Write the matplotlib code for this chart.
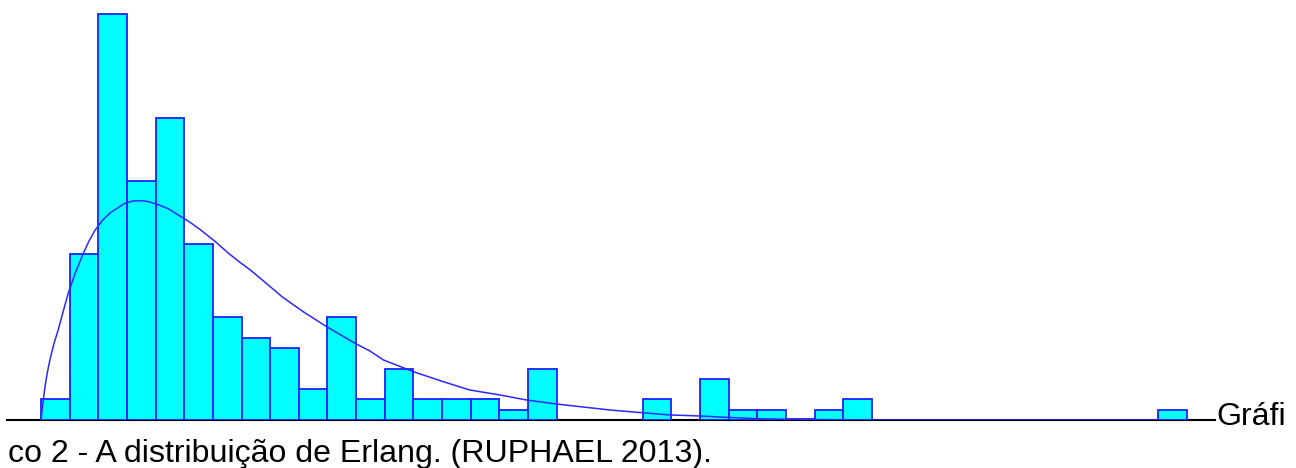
import matplotlib
matplotlib.use("Agg")
import matplotlib.pyplot as plt

# histogram: bin index -> height (counts)
bin_left = list(range(41))
heights = [
    2, 16.1, 39.4, 23.2, 29.3, 17.1, 10.0, 8.0, 7.0, 3.0,
    10.0, 2, 5, 2, 2, 2, 1, 5, 0, 0,
    0, 2, 0, 4, 1, 1, 0.1, 1, 2, 0,
    0, 0, 0, 0, 0, 0, 0, 0, 0, 1,
]

# fitted Erlang curve
curve_x = [0, 0.05, 0.14, 0.22, 0.31, 0.45, 0.60, 0.78, 0.95, 1.2, 1.48,
           1.68, 1.88, 2.15, 2.41, 2.9, 3.18, 3.46, 3.75, 4.1, 4.45, 4.85,
           5.2, 5.55, 6.05, 6.54, 6.9, 7.29, 7.85, 8.40, 8.8, 9.16, 9.97,
           10.96, 11.48, 11.95, 13.0, 14.04, 14.97, 16.02, 16.95, 18.0,
           19.86, 20.97, 21.95, 23.0, 23.93, 24.98, 26.03, 28.9, 40.0]
curve_y = [0, 1.3, 3.23, 4.6, 5.83, 7.4, 8.74, 10.6, 12.3, 14.3, 16.2,
           17.4, 18.4, 19.4, 20.1, 21.0, 21.25, 21.3, 21.2, 20.9, 20.5, 19.8,
           19.2, 18.5, 17.4, 16.2, 15.4, 14.6, 13.3, 12.0, 11.2, 10.5, 9.06,
           7.45, 6.70, 5.83, 4.69, 3.72, 2.91, 2.43, 1.94, 1.55,
           0.97, 0.71, 0.49, 0.39, 0.26, 0.13, 0.07, 0, 0]

caption_right = "Gráfi"
caption_next = "co 2 - A distribuição de Erlang. (RUPHAEL 2013)."

W, H = 1296, 468
fig = plt.figure(figsize=(W / 100, H / 100), dpi=100)
ax = fig.add_axes([7 / W, 1 - 420 / H, (1215 - 7) / W, 420 / H])

nonzero = [(x, h) for x, h in zip(bin_left, heights) if h > 0]
ax.bar([x for x, _ in nonzero], [h for _, h in nonzero], width=1, align="edge",
       color="#00ffff", edgecolor="#2020ff", linewidth=1.3, zorder=2)
ax.plot(curve_x, curve_y, color="#2a2aff", linewidth=1.1, zorder=3)

ax.set_xlim((7 - 41) / 28.65, (1215 - 41) / 28.65)
ax.set_ylim(0, 420 / 10.3)
for s in ["top", "right", "left"]:
    ax.spines[s].set_visible(False)
ax.spines["bottom"].set_linewidth(1.5)
ax.spines["bottom"].set_zorder(1)
ax.set_xticks([])
ax.set_yticks([])

font = dict(family="Liberation Sans", fontsize=23.1, color="black")
fig.text(1216 / W, 1 - 425 / H, caption_right, ha="left", va="baseline", **font)
fig.text(8 / W, 1 - 462 / H, caption_next, ha="left", va="baseline", **font)

fig.savefig("out.png", dpi=100)
